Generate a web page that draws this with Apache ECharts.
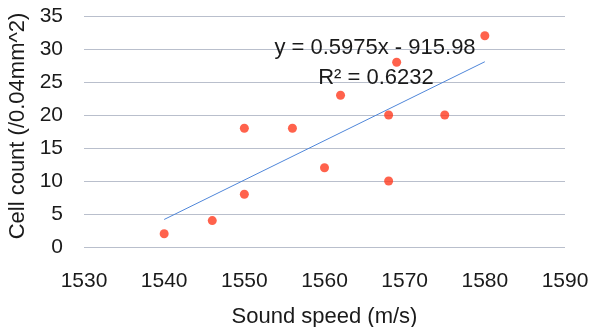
<!DOCTYPE html>
<html><head><meta charset="utf-8">
<script src="https://cdn.jsdelivr.net/npm/echarts@6/dist/echarts.min.js"></script>
<style>html,body{margin:0;padding:0;background:#fff}#c{width:593px;height:327px}</style>
</head><body><div id="c"></div>
<script>
const soundSpeed = [1540, 1546, 1550, 1550, 1556, 1560, 1562, 1568, 1568, 1569, 1575, 1580];
const cellCount  = [2, 4, 8, 18, 18, 12, 23, 20, 10, 28, 20, 32];
const trendSlope = 0.5975;
const trendIntercept = -915.98;
const trendLabel = 'y = 0.5975x - 915.98';
const r2Label = 'R² = 0.6232';
const xTitle = 'Sound speed (m/s)';
const yTitle = 'Cell count (/0.04mm^2)';

const FONT = '"Liberation Sans", Arial, sans-serif';
const pts = soundSpeed.map((x, i) => [x, cellCount[i]]);
const xMin = Math.min(...soundSpeed), xMax = Math.max(...soundSpeed);
const trend = [[xMin, trendSlope * xMin + trendIntercept], [xMax, trendSlope * xMax + trendIntercept]];

const chart = echarts.init(document.getElementById('c'));
chart.setOption({
  animation: false,
  grid: { left: 84, right: 28, top: 16, bottom: 80, containLabel: false, outerBoundsMode: 'none' },
  xAxis: {
    type: 'value', min: 1530, max: 1590, interval: 10,
    axisLine: { show: false }, axisTick: { show: false }, splitLine: { show: false },
    axisLabel: { fontFamily: FONT, fontSize: 21, color: '#1a1a1a', margin: 24, formatter: v => String(v) },
    name: xTitle, nameLocation: 'middle', nameGap: 59,
    nameTextStyle: { fontFamily: FONT, fontSize: 22, color: '#1a1a1a' }
  },
  yAxis: {
    type: 'value', min: 0, max: 35, interval: 5,
    axisLine: { show: false }, axisTick: { show: false },
    splitLine: { show: true, lineStyle: { color: '#b9bfcc', width: 1 } },
    axisLabel: { fontFamily: FONT, fontSize: 21, color: '#1a1a1a', margin: 21, formatter: v => String(v) },
    name: yTitle, nameLocation: 'middle', nameGap: 49, nameRotate: 90,
    nameTextStyle: { fontFamily: FONT, fontSize: 22, color: '#1a1a1a', padding: [0, 0, 0, 11] }
  },
  series: [
    { type: 'line', data: trend, symbol: 'none', lineStyle: { color: '#4f86d9', width: 1 }, z: 2 },
    { type: 'scatter', data: pts, symbolSize: 9, itemStyle: { color: '#ff3b1f' }, z: 3 }
  ],
  graphic: [
    { type: 'text', x: 375, y: 48, z: 10, style: { text: trendLabel, fontFamily: FONT, fontSize: 22, fill: '#1a1a1a', textAlign: 'center', textVerticalAlign: 'middle' } },
    { type: 'text', x: 376, y: 78, z: 10, style: { text: r2Label, fontFamily: FONT, fontSize: 22, fill: '#1a1a1a', textAlign: 'center', textVerticalAlign: 'middle' } }
  ]
});
</script></body></html>
